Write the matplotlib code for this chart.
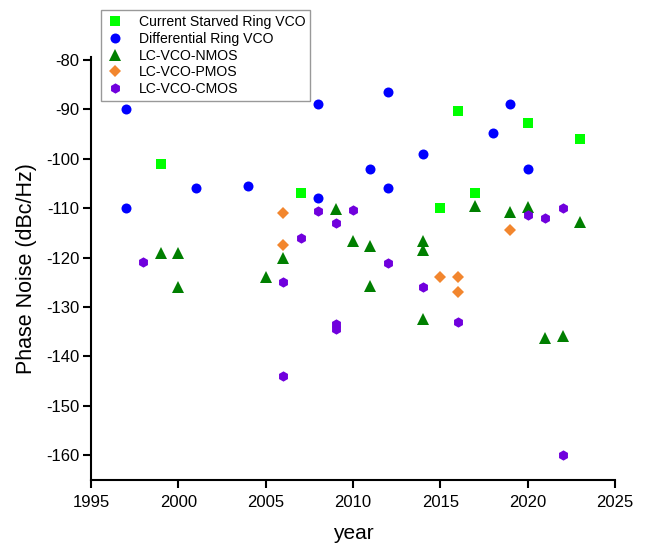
import matplotlib
matplotlib.use("Agg")
import matplotlib.pyplot as plt

plt.rcParams['font.family'] = ['Liberation Sans', 'DejaVu Sans']
plt.rcParams['axes.unicode_minus'] = False

# Current Starved Ring VCO
csr_year = [1999, 2007, 2015, 2016, 2017, 2020, 2023]
csr_pn = [-101, -107, -110, -90.3, -107, -92.7, -96]

# Differential Ring VCO
diff_year = [1997, 1997, 2001, 2004, 2008, 2008, 2011, 2012, 2012, 2014, 2018, 2019, 2020]
diff_pn = [-90, -110, -106, -105.5, -89, -108, -102, -86.5, -106, -99, -94.8, -89, -102]

# LC-VCO-NMOS
nmos_year = [1999, 2000, 2000, 2005, 2006, 2009, 2010, 2011, 2011, 2014, 2014, 2014,
             2017, 2019, 2020, 2021, 2022, 2023]
nmos_pn = [-119, -119, -126, -124, -120, -110.2, -116.6, -117.6, -125.7, -116.6, -118.5, -132.4,
           -109.6, -110.8, -109.8, -136.2, -135.8, -112.8]

# LC-VCO-PMOS
pmos_year = [2006, 2006, 2015, 2016, 2016, 2019]
pmos_pn = [-111, -117.4, -124, -124, -127, -114.4]

# LC-VCO-CMOS
cmos_year = [1998, 2006, 2006, 2007, 2008, 2009, 2009, 2009, 2010, 2012, 2014, 2016,
             2020, 2021, 2022, 2022]
cmos_pn = [-121, -125, -144, -116, -110.6, -113, -133.5, -134.5, -110.4, -121.1, -126, -133,
           -111.3, -112, -110, -160]

series = [
    ("Current Starved Ring VCO", csr_year, csr_pn, 's', '#00FF00', 6.5),
    ("Differential Ring VCO", diff_year, diff_pn, 'o', '#0000FF', 7.2),
    ("LC-VCO-NMOS", nmos_year, nmos_pn, '^', '#007F00', 8.6),
    ("LC-VCO-PMOS", pmos_year, pmos_pn, 'D', '#F2862E', 6.0),
    ("LC-VCO-CMOS", cmos_year, cmos_pn, 'h', '#7000DD', 7.4),
]

fig = plt.figure(figsize=(6.48, 5.45), dpi=100)
ax = fig.add_axes([91/648, 1-480/545, (615-91)/648, (480-57.3)/545])

for label, xs, ys, m, c, ms in series:
    ax.plot(xs, ys, linestyle='none', marker=m, color=c, markersize=ms,
            markeredgewidth=0, label=label)

ax.set_xlim(1995, 2025)
ax.set_ylim(-165, -79.5)
ax.set_xticks([1995, 2000, 2005, 2010, 2015, 2020, 2025])
ax.set_yticks([-80, -90, -100, -110, -120, -130, -140, -150, -160])
for s in ['top', 'right']:
    ax.spines[s].set_visible(False)
for s in ['left', 'bottom']:
    ax.spines[s].set_linewidth(1.5)
ax.tick_params(direction='out', length=5.5, width=1.5, labelsize=12)
ax.tick_params(axis='x', pad=5)
ax.tick_params(axis='y', pad=3)
ax.set_xlabel('year', fontsize=15, labelpad=10.5)
ax.set_ylabel('Phase Noise (dBc/Hz)', fontsize=15.5, labelpad=6)

leg = ax.legend(loc='upper left', bbox_to_anchor=(100.7/648, 1-10/545),
                bbox_transform=fig.transFigure, borderaxespad=0, fontsize=10.1,
                frameon=True, fancybox=False, edgecolor='#808080',
                handletextpad=1.05, labelspacing=0.2, borderpad=0.35,
                handlelength=1.3)
leg.get_frame().set_linewidth(1.0)

fig.savefig('out.png', dpi=100)
